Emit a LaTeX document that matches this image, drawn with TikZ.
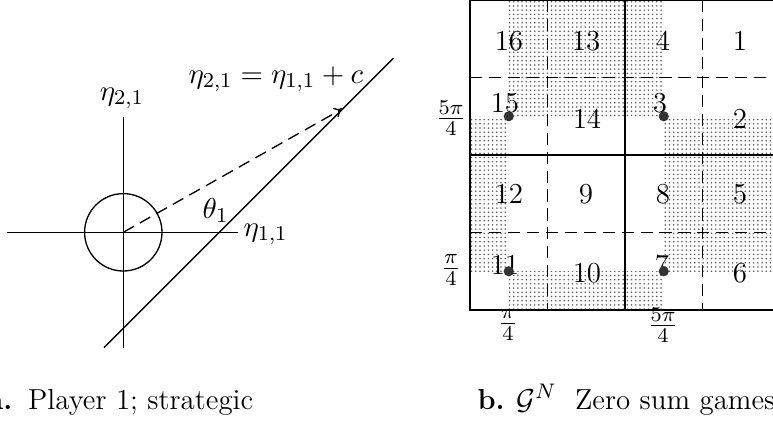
\documentclass[tikz,border=0pt]{standalone}
\usetikzlibrary{patterns.meta,arrows.meta}
\tikzdeclarepattern{
  name=finedots,
  type=uncolored,
  bounding box={(-0.8pt,-0.8pt) and (0.8pt,0.8pt)},
  tile size={(1.6pt,1.6pt)},
  code={\pgfpathcircle{\pgfpointorigin}{0.33pt}\pgfusepath{fill}}
}
\tikzset{
  ax/.style={line width=0.5pt},
  dsh/.style={line width=0.5pt, dash pattern=on 4.6pt off 2.6pt},
  lbl/.style={inner sep=0pt, font=\fontsize{11}{13}\selectfont},
  num/.style={lbl, anchor=base},
  shade/.style={pattern={finedots}, pattern color=black!65},
  spot/.style={fill=black!80},
}
\begin{document}
\begin{tikzpicture}[x=0.38pt,y=-0.38pt]
\useasboundingbox (0,0) rectangle (773,427);
\clip (0,0) rectangle (773,427);

% ---------- left panel ----------
\coordinate (O) at (123.3,232.3);
\coordinate (H1) at (6.7,232.3);
\coordinate (H2) at (238,232.3);
\coordinate (V1) at (123.3,116.7);
\coordinate (V2) at (123.3,348);
\coordinate (L1) at (104,347.6);
\coordinate (L2) at (393.5,58.1);
\coordinate (P) at (343.3,108.3);

\draw[ax] (H1) -- (H2);
\draw[ax] (V1) -- (V2);
\draw[ax] (O) circle (38.7);
\draw[ax] (L1) -- (L2);
\draw[dsh,-{To[length=3.5pt,width=4pt]}] (O) -- (P);

\node[lbl,anchor=base] (e21) at (122,100) {$\eta_{2,1}$};
\node[lbl,anchor=base west] (eq) at (188,83) {$\eta_{2,1}=\eta_{1,1}+c$};
\node[lbl,anchor=base west] (e11) at (243,236) {$\eta_{1,1}$};
\node[lbl,anchor=base west] (th) at (202,218) {$\theta_1$};

% ---------- right panel ----------
% shaded regions
\fill[shade] (508.75,0) rectangle (663.75,116.25);
\fill[shade] (470,116.25) rectangle (508.75,271.25);
\fill[shade] (508.75,271.25) rectangle (663.75,310);
\fill[shade] (663.75,116.25) rectangle (780,271.25);

% grid
\draw[dsh] (547.5,0) -- (547.5,310);
\draw[dsh] (702.5,0) -- (702.5,310);
\draw[dsh] (470,77.5) -- (780,77.5);
\draw[dsh] (470,232.5) -- (780,232.5);
\draw[ax] (625,0) -- (625,310);
\draw[ax] (470,155) -- (780,155);
\draw[ax] (470,0) rectangle (780,310);

% numbers
\node[num] (n16) at (509,50) {16};
\node[num] (n13) at (586,50) {13};
\node[num] (n4) at (663,50) {4};
\node[num] (n1) at (740,50) {1};
\node[num] (n15) at (505,112) {15};
\node[num] (n14) at (587,128) {14};
\node[num] (n3) at (660,112) {3};
\node[num] (n2) at (740,128) {2};
\node[num] (n12) at (509,203) {12};
\node[num] (n9) at (586,203) {9};
\node[num] (n8) at (663,203) {8};
\node[num] (n5) at (740,203) {5};
\node[num] (n11) at (505,274) {11};
\node[num] (n10) at (587,282) {10};
\node[num] (n7) at (662,274) {7};
\node[num] (n6) at (740,282) {6};

% equilibrium points
\fill[spot] (508.75,116.25) circle (5.1);
\fill[spot] (663.75,116.25) circle (5.1);
\fill[spot] (508.75,271.25) circle (5.1);
\fill[spot] (663.75,271.25) circle (5.1);

% axis fractions
\node[lbl] (y5) at (451,118) {$\frac{5\pi}{4}$};
\node[lbl] (y1) at (451,270) {$\frac{\pi}{4}$};
\node[lbl] (x1) at (508,325) {$\frac{\pi}{4}$};
\node[lbl] (x5) at (663,325) {$\frac{5\pi}{4}$};

% captions
\node[lbl,anchor=base west] (capa) at (-13,409) {\textbf{a.}\hspace{6pt}Player 1; strategic};
\node[lbl,anchor=base west] (capb) at (477,409) {\textbf{b.}\hspace{4.5pt}$\mathcal{G}^N$\hspace{7pt}Zero sum games};
\end{tikzpicture}
\end{document}
